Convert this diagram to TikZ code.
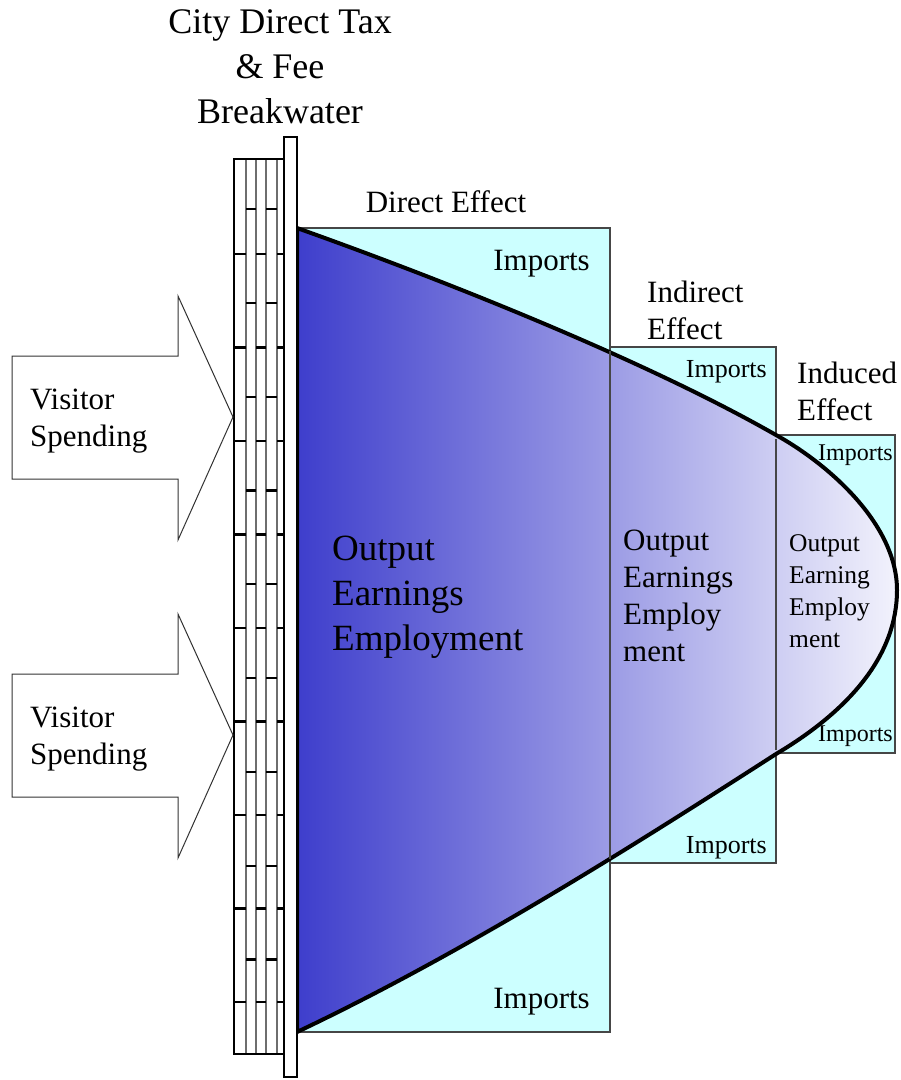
\documentclass[tikz,border=0pt]{standalone}
\usepackage{fontspec}
\setmainfont{Liberation Serif}
\usetikzlibrary{positioning}
\definecolor{importCyan}{HTML}{CCFFFF}
\definecolor{effectBlue}{RGB}{62,62,204}
\definecolor{effectPale}{RGB}{242,242,252}
\definecolor{boxEdge}{RGB}{70,70,70}
\definecolor{brickGray}{RGB}{110,110,110}
\tikzset{
  importbox/.style={fill=importCyan, draw=boxEdge, line width=1.5pt},
  lbl/.style={inner sep=0pt, align=left, font=\fontsize{31}{37}\selectfont},
  smalllbl/.style={inner sep=0pt, align=left, font=\fontsize{25.5}{32}\selectfont},
  spendarrow/.style={draw=black!80, line width=1pt, fill=white},
  brickmark/.style={line width=2.2pt},
}

\begin{document}
\begin{tikzpicture}[x=1pt, y=-1pt]
\useasboundingbox (0,0) rectangle (901,1080);

% import boxes
\path[importbox] (297,228) rectangle (610,1032);
\path[importbox] (610,347) rectangle (776,863);
\path[importbox] (776,435) rectangle (895,753);

% spending wave
\shadedraw[left color=effectBlue, right color=effectPale, line width=4pt]
  (297,228) .. controls (457,285) and (650,363) .. (776,435)
  .. controls (830,465) and (897,525) .. (897,590)
  .. controls (897,655) and (850,710) .. (776,754)
  .. controls (650,835) and (470,950) .. (297,1032) -- cycle;
\draw[boxEdge, line width=1.5pt] (610,351) -- (610,859);
\draw[boxEdge, line width=1.5pt] (776,439) -- (776,750);

% breakwater
\draw[line width=2.5pt, fill=white] (234,159) rectangle (284,1054);
\foreach \x in {246,256,266,277}
  \draw[brickGray, line width=1.5pt] (\x,160) -- (\x,1053);
\foreach \k in {0,...,8} {
  \pgfmathsetmacro\ya{254+93.5*\k}
  \pgfmathsetmacro\yb{209+93.8*\k}
  \draw[brickmark] (234,\ya) -- (246,\ya) (256,\ya) -- (266,\ya) (277,\ya) -- (284,\ya);
  \draw[brickmark] (246,\yb) -- (256,\yb) (266,\yb) -- (277,\yb);
}
\draw[line width=2.5pt, fill=white] (284,137) rectangle (297,1077);

% visitor spending
\foreach \dy/\nm in {0/spendA, 318/spendB} {
  \draw[spendarrow] (12,356+\dy) -- (178,356+\dy) -- (178,296+\dy) -- (233,417+\dy)
    -- (178,540+\dy) -- (178,479+\dy) -- (12,479+\dy) -- cycle;
  \node[lbl, anchor=west] (\nm) at (30,421+\dy) {Visitor\\Spending};
}

% labels
\node[inner sep=0pt, align=center, font=\fontsize{36}{45}\selectfont] (title) at (280,67)
  {City Direct Tax\\\& Fee\\Breakwater};
\node[lbl] (direct) at (446,202) {Direct Effect};
\node[lbl, anchor=west] (indirect) at (647,310) {Indirect\\Effect};
\node[lbl, anchor=west] (induced) at (797,391) {Induced\\Effect};

\node[lbl, anchor=east] (impA) at (590,264) {Imports};
\node[lbl, anchor=east] (impB) at (590,1002) {Imports};
\node[inner sep=0pt, font=\fontsize{26}{30}\selectfont, anchor=east] (impC) at (767,372) {Imports};
\node[inner sep=0pt, font=\fontsize{26}{30}\selectfont, anchor=east] (impD) at (767,848) {Imports};
\node[inner sep=0pt, font=\fontsize{24}{28}\selectfont, anchor=east] (impE) at (893,455) {Imports};
\node[inner sep=0pt, font=\fontsize{24}{28}\selectfont, anchor=east] (impF) at (893,736) {Imports};

\node[inner sep=0pt, align=left, font=\fontsize{37}{45}\selectfont, anchor=west] (outA) at (332,597)
  {Output\\Earnings\\Employment};
\node[lbl, anchor=west] (outB) at (623,596) {Output\\Earnings\\Employ\\ment};
\node[smalllbl, anchor=west] (outC) at (789,591) {Output\\Earning\\Employ\\ment};
\end{tikzpicture}
\end{document}
